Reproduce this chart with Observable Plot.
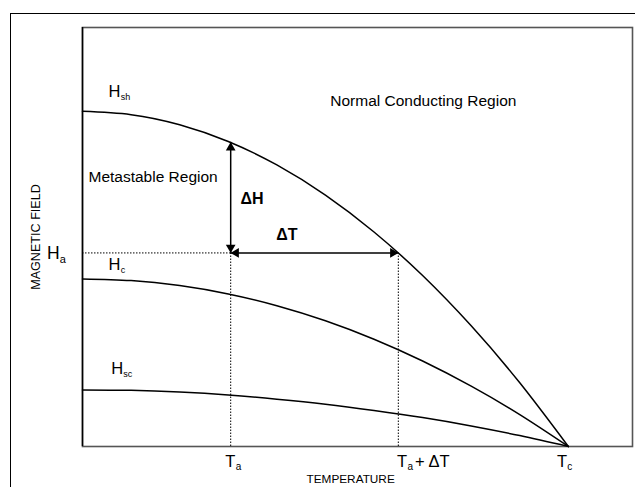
<!DOCTYPE html>
<html>
<head>
<meta charset="utf-8">
<script src="https://cdn.jsdelivr.net/npm/d3@7"></script>
<script src="https://cdn.jsdelivr.net/npm/@observablehq/plot@0.6"></script>
<style>
  html, body { margin: 0; padding: 0; background: #fff; overflow: hidden; }
  #wrap { position: relative; width: 635px; height: 487px; }
  #outer { position: absolute; left: 10px; top: 13px; width: 700px; height: 600px;
           border-left: 1px solid #000; border-top: 1px solid #000; pointer-events: none; }
</style>
</head>
<body>
<div id="wrap"><div id="chart"></div><div id="outer"></div></div>
<script>
// Temperature (fraction of Tc) and the three critical-field curves (fraction of plot height)
const temperature = [0, 0.1, 0.2, 0.3, 0.4, 0.5, 0.6, 0.7, 0.8, 0.9, 1.0];
const hSuperheat  = [0.800, 0.792, 0.768, 0.728, 0.672, 0.600, 0.512, 0.408, 0.288, 0.152, 0];
const hCritical   = [0.400, 0.396, 0.384, 0.364, 0.336, 0.300, 0.256, 0.204, 0.144, 0.076, 0];
const hSupercool  = [0.135, 0.134, 0.130, 0.123, 0.113, 0.101, 0.086, 0.069, 0.049, 0.026, 0];

// Key points
const Ta = 0.305;        // applied temperature
const TaDT = 0.65;       // Ta + ΔT
const Ha = 0.462;        // applied field
const HshAtTa = 0.726;   // superheating field at Ta

const curves = [
  ...temperature.map((t, i) => ({t, h: hSuperheat[i], curve: "Hsh"})),
  ...temperature.map((t, i) => ({t, h: hCritical[i], curve: "Hc"})),
  ...temperature.map((t, i) => ({t, h: hSupercool[i], curve: "Hsc"}))
];

const FONT = "Liberation Sans, Arial, Helvetica, sans-serif";

const regionLabels = [
  {text: "Normal Conducting Region", x: 0.510, y: 0.825},
  {text: "Metastable Region", x: 0.0123, y: 0.644}
];
const deltaLabels = [
  {text: "ΔH", x: 0.325, y: 0.591},
  {text: "ΔT", x: 0.399, y: 0.505}
];
const hLabels = [
  {main: "H", sub: "sh", x: 0.0535, y: 0.846},
  {main: "H", sub: "c",  x: 0.0535, y: 0.433},
  {main: "H", sub: "sc", x: 0.059,  y: 0.1866}
];
const haLabel = [{main: "H", sub: "a", x: -0.073, y: 0.4606}];
const tLabels = [
  {main: "T", sub: "a", x: 0.294,  y: -0.036},
  {main: "T", sub: "a", x: 0.6475, y: -0.036},
  {main: "T", sub: "c", x: 0.9767, y: -0.036}
];

const plot = Plot.plot({
  width: 635,
  height: 487,
  marginLeft: 82,
  marginRight: 3,
  marginTop: 27,
  marginBottom: 41,
  x: {domain: [0, 1.132], axis: null},
  y: {domain: [0, 1], axis: null},
  style: {fontFamily: FONT, background: "transparent", color: "black"},
  marks: [
    Plot.frame({stroke: "#555", strokeWidth: 1.6}),
    Plot.ruleX([0], {stroke: "black", strokeWidth: 1.5}),
    // dotted guide lines
    Plot.ruleY([Ha], {x1: 0, x2: Ta, stroke: "black", strokeWidth: 1, strokeDasharray: "1.5,1.5"}),
    Plot.ruleX([Ta], {y1: 0, y2: Ha, stroke: "black", strokeWidth: 1, strokeDasharray: "1.5,1.5"}),
    Plot.ruleX([TaDT], {y1: 0, y2: Ha, stroke: "black", strokeWidth: 1, strokeDasharray: "1.5,1.5"}),
    // curves
    Plot.line(curves, {x: "t", y: "h", z: "curve", curve: "natural", stroke: "black", strokeWidth: 1.5}),
    // ΔH and ΔT arrows
    Plot.ruleX([Ta], {y1: Ha, y2: HshAtTa, stroke: "black", strokeWidth: 1.5}),
    Plot.ruleY([Ha], {x1: Ta, x2: TaDT, stroke: "black", strokeWidth: 1.5}),
    Plot.dot([{x: Ta, y: HshAtTa}], {x: "x", y: "y", symbol: "triangle", r: 3.6, fill: "black", rotate: 0, dy: 5.4}),
    Plot.dot([{x: Ta, y: Ha}], {x: "x", y: "y", symbol: "triangle", r: 3.6, fill: "black", rotate: 180, dy: -5.4}),
    Plot.dot([{x: Ta, y: Ha}], {x: "x", y: "y", symbol: "triangle", r: 3.6, fill: "black", rotate: -90, dx: 5.4}),
    Plot.dot([{x: TaDT, y: Ha}], {x: "x", y: "y", symbol: "triangle", r: 3.6, fill: "black", rotate: 90, dx: -5.4}),
    // region labels
    Plot.text(regionLabels, {x: "x", y: "y", text: "text", textAnchor: "start", fontSize: 15.5, fill: "black"}),
    Plot.text(deltaLabels, {x: "x", y: "y", text: "text", textAnchor: "start", fontSize: 16, fontWeight: "bold", fill: "black"}),
    // H labels with subscripts
    Plot.text(hLabels, {x: "x", y: "y", text: "main", textAnchor: "start", fontSize: 16.5, fill: "black"}),
    Plot.text(hLabels, {x: "x", y: "y", text: "sub", textAnchor: "start", fontSize: 9, dx: 12.2, dy: 5.5, fill: "black"}),
    Plot.text(haLabel, {x: "x", y: "y", text: "main", textAnchor: "start", fontSize: 17.5, fill: "black"}),
    Plot.text(haLabel, {x: "x", y: "y", text: "sub", textAnchor: "start", fontSize: 11, dx: 12.8, dy: 5.5, fill: "black"}),
    // T labels with subscripts
    Plot.text(tLabels, {x: "x", y: "y", text: "main", textAnchor: "start", fontSize: 16.5, fill: "black"}),
    Plot.text(tLabels, {x: "x", y: "y", text: "sub", textAnchor: "start", fontSize: 10, dx: 10.3, dy: 5.5, fill: "black"}),
    Plot.text([{x: 0.6475, y: -0.036, text: "+ ΔT"}], {x: "x", y: "y", text: "text", textAnchor: "start", fontSize: 16.5, dx: 18, fill: "black"}),
    // axis titles
    Plot.text([{x: 0.461, y: -0.079, text: "TEMPERATURE"}], {x: "x", y: "y", text: "text", textAnchor: "start", fontSize: 11.8, fill: "black"}),
    Plot.text([{x: -0.0967, y: 0.5, text: "MAGNETIC FIELD"}], {x: "x", y: "y", text: "text", rotate: -90, fontSize: 12.6, fill: "black"})
  ]
});
document.getElementById("chart").appendChild(plot);
</script>
</body>
</html>
